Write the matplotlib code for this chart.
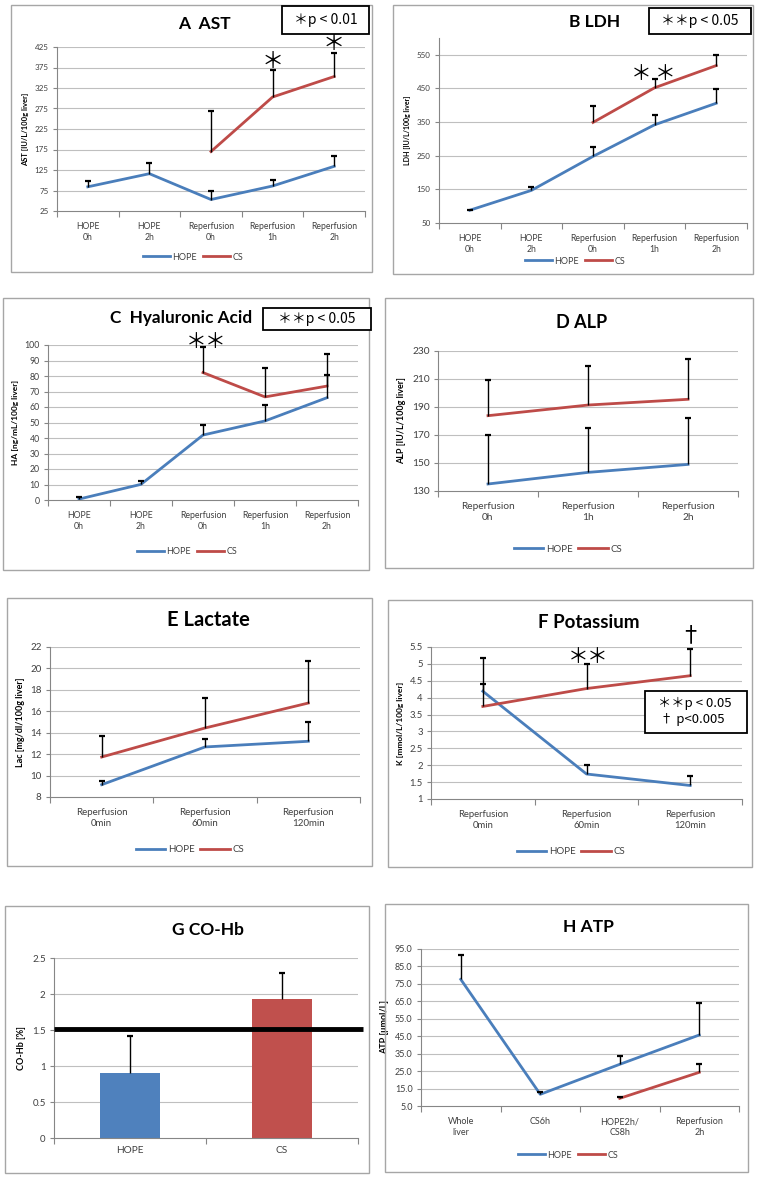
import numpy as np
import matplotlib
matplotlib.use("Agg")
import matplotlib.pyplot as plt
from matplotlib.patches import Rectangle
from matplotlib.lines import Line2D

plt.rcParams['font.family'] = ['Lato', 'DejaVu Sans']

W, H = 760, 1178
BLUE = '#4A7EBB'
RED = '#BE4B48'
BAR_BLUE = '#4F81BD'
BAR_RED = '#C0504D'
GRID = '#BFBFBF'
SPINE = '#868686'
TICKC = '#404040'
CJK = ['Noto Sans CJK JP', 'DejaVu Sans']

# ---------------- data ----------------
cats_A = ['HOPE\n0h', 'HOPE\n2h', 'Reperfusion\n0h', 'Reperfusion\n1h', 'Reperfusion\n2h']
ast_hope = [84, 116, 53, 86, 134]
ast_hope_err = [13, 27, 21, 14, 24]
ast_cs = [np.nan, np.nan, 170, 303, 353]
ast_cs_err = [0, 0, 100, 67, 58]

ldh_hope = [88, 147, 248, 342, 406]
ldh_hope_err = [1, 10, 29, 29, 43]
ldh_cs = [np.nan, np.nan, 349, 452, 518]
ldh_cs_err = [0, 0, 48, 25, 32]

ha_hope = [0.6, 10.1, 41.9, 51.0, 66.0]
ha_hope_err = [1.1, 2.4, 6.5, 10.3, 14.6]
ha_cs = [np.nan, np.nan, 82.2, 66.5, 73.5]
ha_cs_err = [0, 0, 16.5, 18.5, 20.9]

cats_D = ['Reperfusion\n0h', 'Reperfusion\n1h', 'Reperfusion\n2h']
alp_hope = [135.0, 143.3, 149.0]
alp_hope_err = [35.0, 31.5, 33.0]
alp_cs = [183.8, 191.4, 195.5]
alp_cs_err = [25.7, 28.1, 28.8]

cats_E = ['Reperfusion\n0min', 'Reperfusion\n60min', 'Reperfusion\n120min']
lac_hope = [9.15, 12.67, 13.2]
lac_hope_err = [0.31, 0.73, 1.8]
lac_cs = [11.73, 14.44, 16.77]
lac_cs_err = [1.93, 2.83, 3.89]

k_hope = [4.19, 1.74, 1.40]
k_hope_err = [0.22, 0.28, 0.28]
k_cs = [3.74, 4.27, 4.65]
k_cs_err = [1.42, 0.73, 0.79]

cats_G = ['HOPE', 'CS']
cohb = [0.90, 1.93]
cohb_err = [0.51, 0.36]
cohb_ref = 1.52

cats_H = ['Whole\nliver', 'CS6h', 'HOPE2h/\nCS8h', 'Reperfusion\n2h']
atp_hope = [77.6, 11.7, 28.9, 45.7]
atp_hope_err = [13.8, 1.3, 4.8, 18.5]
atp_cs = [np.nan, np.nan, 9.4, 24.3]
atp_cs_err = [0, 0, 0.95, 4.7]

# ---------------- helpers ----------------
fig = plt.figure(figsize=(W / 100, H / 100), dpi=100)


def px_axes(x0, y0, x1, y1):
    return fig.add_axes([x0 / W, 1 - y1 / H, (x1 - x0) / W, (y1 - y0) / H])


def frame(x0, y0, x1, y1):
    fig.patches.append(Rectangle((x0 / W, 1 - y1 / H), (x1 - x0) / W, (y1 - y0) / H,
                                 transform=fig.transFigure, fill=False,
                                 edgecolor='#A6A6A6', linewidth=1.0, zorder=0))


def ftext(x, y, s, **kw):
    return fig.text(x / W, 1 - y / H, s, **kw)


def boxtext(x0, y0, x1, y1, s, size=10, tx=None):
    fig.patches.append(Rectangle((x0 / W, 1 - y1 / H), (x1 - x0) / W, (y1 - y0) / H,
                                 transform=fig.transFigure, fill=True, facecolor='white',
                                 edgecolor='black', linewidth=1.3, zorder=5))
    if tx is None:
        tx = (x0 + x1) / 2
    fig.text(tx / W, 1 - (y0 + y1) / 2 / H, s, ha='center', va='center', fontsize=size,
             family=CJK, zorder=6)


def style_axes(ax, ncat, yticks, ylim, ylabel, tsize, lsize, xsize, ytickfmt=None):
    ax.set_xlim(-0.5, ncat - 0.5)
    ax.set_ylim(*ylim)
    ax.set_yticks(yticks)
    if ytickfmt:
        ax.set_yticklabels([ytickfmt.format(v) for v in yticks])
    for s in ['top', 'right']:
        ax.spines[s].set_visible(False)
    for s in ['left', 'bottom']:
        ax.spines[s].set_color(SPINE)
        ax.spines[s].set_linewidth(0.8)
    ax.set_axisbelow(True)
    for v in yticks:
        if v != ylim[0]:
            ax.axhline(v, color=GRID, lw=0.8, zorder=0)
    ax.tick_params(axis='y', colors=SPINE, labelcolor=TICKC, labelsize=tsize, length=3, width=0.8, pad=3)
    ax.set_xticks(np.arange(ncat))
    ax.set_xticks(np.arange(ncat + 1) - 0.5, minor=True)
    ax.tick_params(axis='x', which='major', length=0, labelsize=xsize, labelcolor=TICKC, pad=8)
    ax.tick_params(axis='x', which='minor', length=4, color=SPINE, width=0.8)
    ax.set_ylabel(ylabel, fontsize=lsize, fontweight='bold', labelpad=4)
    ax.patch.set_alpha(0)


def up_err(ax, x, y, err):
    for xi, yi, ei in zip(x, y, err):
        if np.isnan(yi) or ei <= 0:
            continue
        ax.vlines(xi, yi, yi + ei, color='black', lw=1.0, zorder=4)
        ax.plot([xi], [yi + ei], marker='_', ms=5, mew=1.6, color='black', zorder=4,
                clip_on=False)


def line_err(ax, y, err, color, lw=2.0):
    x = np.arange(len(y))
    y = np.asarray(y, float)
    ax.plot(x, y, color=color, lw=lw, zorder=3)
    up_err(ax, x, y, err)


def legend(cx, cy, size=6.5):
    handles = [Line2D([], [], color=BLUE, lw=2), Line2D([], [], color=RED, lw=2)]
    fig.legend(handles, ['HOPE', 'CS'], loc='center', bbox_to_anchor=(cx / W, 1 - cy / H),
               ncol=2, frameon=False, fontsize=size, handlelength=3.0, handletextpad=0.3,
               columnspacing=0.6, labelcolor=TICKC)


def title(cx, cy, s, size=13):
    ftext(cx, cy, s, ha='center', va='center', fontsize=size, fontweight='bold')


def mark(ax, x, y, s, size=15):
    ax.text(x, y, s, ha='center', va='center', fontsize=size, family=CJK,
            zorder=6, clip_on=False)


# ---------------- A AST ----------------
frame(11, 5, 372, 272)
ax = px_axes(57, 47, 365, 211)
style_axes(ax, 5, [25, 75, 125, 175, 225, 275, 325, 375, 425], (25, 425),
           'AST [IU/L/100g liver]', 5.8, 5.5, 6.2)
ax.set_xticklabels(cats_A)
line_err(ax, ast_hope, ast_hope_err, BLUE)
line_err(ax, ast_cs, ast_cs_err, RED)
mark(ax, 3, 390, '＊', 16)
mark(ax, 4, 433, '＊', 16)
title(204, 24, 'A  AST', 12.5)
boxtext(282, 6, 369, 34, '＊p < 0.01', 10)
legend(193, 257)

# ---------------- B LDH ----------------
frame(393, 5, 753, 274)
ax = px_axes(439, 38, 747, 223)
style_axes(ax, 5, [50, 150, 250, 350, 450, 550], (50, 600),
           'LDH [IU/L/100g liver]', 5.8, 5.0, 6.2)
ax.set_xticklabels(cats_A)
line_err(ax, ldh_hope, ldh_hope_err, BLUE)
line_err(ax, ldh_cs, ldh_cs_err, RED)
mark(ax, 2.79, 494, '＊', 15)
mark(ax, 3.17, 494, '＊', 15)
title(595, 22, 'B LDH', 12.5)
boxtext(649, 8, 751, 34, '＊＊p < 0.05', 10)
legend(575, 261)

# ---------------- C HA ----------------
frame(3, 298, 369, 570)
ax = px_axes(48, 345, 358, 500)
style_axes(ax, 5, list(range(0, 101, 10)), (0, 100),
           'HA [ng/mL/100g liver]', 6.3, 6.0, 6.3)
ax.set_xticklabels(cats_A)
line_err(ax, ha_hope, ha_hope_err, BLUE)
line_err(ax, ha_cs, ha_cs_err, RED)
mark(ax, 1.89, 102, '＊', 15)
mark(ax, 2.19, 102, '＊', 15)
title(181, 318, 'C  Hyaluronic Acid', 12.3)
boxtext(263, 308, 371, 330, '＊＊p < 0.05', 10)
legend(187, 552)

# ---------------- D ALP ----------------
frame(385, 298, 753, 568)
ax = px_axes(438, 351, 738, 491)
style_axes(ax, 3, [130, 150, 170, 190, 210, 230], (130, 230),
           'ALP [IU/L/100g liver]', 7.3, 6.5, 7.3)
ax.set_xticklabels(cats_D)
line_err(ax, alp_hope, alp_hope_err, BLUE)
line_err(ax, alp_cs, alp_cs_err, RED)
title(582, 323, 'D ALP', 13)
legend(568, 549, 7)

# ---------------- E Lactate ----------------
frame(7, 598, 372, 866)
ax = px_axes(50, 647, 360, 797)
style_axes(ax, 3, list(range(8, 23, 2)), (8, 22),
           'Lac [mg/dl/100g liver]', 7.0, 6.5, 7.0)
ax.set_xticklabels(cats_E)
line_err(ax, lac_hope, lac_hope_err, BLUE)
line_err(ax, lac_cs, lac_cs_err, RED)
title(208, 620, 'E Lactate', 14.5)
legend(190, 850, 7)

# ---------------- F Potassium ----------------
frame(388, 600, 752, 867)
ax = px_axes(431, 647, 742, 799)
kt = [1, 1.5, 2, 2.5, 3, 3.5, 4, 4.5, 5, 5.5]
style_axes(ax, 3, kt, (1, 5.5), 'K [mmol/L/100g liver]', 6.8, 6.0, 6.8)
ax.set_yticklabels(['1', '1.5', '2', '2.5', '3', '3.5', '4', '4.5', '5', '5.5'])
ax.set_xticklabels(cats_E)
line_err(ax, k_hope, k_hope_err, BLUE)
line_err(ax, k_cs, k_cs_err, RED)
mark(ax, 0.92, 5.21, '＊', 15)
mark(ax, 1.10, 5.21, '＊', 15)
mark(ax, 2.0, 5.84, '†', 16)
title(589, 622, 'F Potassium', 13.5)
fig.patches.append(Rectangle((645 / W, 1 - 733 / H), (747 - 645) / W, (733 - 691) / H,
                             transform=fig.transFigure, fill=True, facecolor='white',
                             edgecolor='black', linewidth=1.3, zorder=5))
ftext(658, 703, '＊＊p < 0.05', ha='left', va='center', fontsize=9.5, family=CJK, zorder=6)
ftext(660, 720, '† p<0.005', ha='left', va='center', fontsize=9.5, family=CJK, zorder=6)
legend(571, 852, 7)

# ---------------- G CO-Hb ----------------
frame(5, 906, 369, 1173)
ax = px_axes(54, 958, 358, 1138)
style_axes(ax, 2, [0, 0.5, 1, 1.5, 2, 2.5], (0, 2.5), 'CO-Hb [%]', 7.0, 6.5, 7.3)
ax.set_yticklabels(['0', '0.5', '1', '1.5', '2', '2.5'])
ax.set_xticklabels(cats_G)
ax.tick_params(axis='x', which='major', pad=6)
ax.bar(np.arange(2), cohb, width=0.40, color=[BAR_BLUE, BAR_RED], zorder=2)
up_err(ax, np.arange(2), cohb, cohb_err)
ax.plot([-0.5, 1.53], [cohb_ref, cohb_ref], color='black', lw=3.5, zorder=5, clip_on=False,
        solid_capstyle='butt')
title(208, 930, 'G CO-Hb', 12.5)

# ---------------- H ATP ----------------
frame(385, 904, 748, 1172)
ax = px_axes(421, 949, 739, 1106)
ht = [5, 15, 25, 35, 45, 55, 65, 75, 85, 95]
style_axes(ax, 4, ht, (5, 95), 'ATP [μmol/L]', 6.5, 6.5, 6.5, ytickfmt='{:.1f}')
ax.set_xticklabels(cats_H)
line_err(ax, atp_hope, atp_hope_err, BLUE)
line_err(ax, atp_cs, atp_cs_err, RED)
title(588, 927, 'H ATP', 12.5)
legend(568, 1155, 6.5)

fig.savefig('out.png', dpi=100)
